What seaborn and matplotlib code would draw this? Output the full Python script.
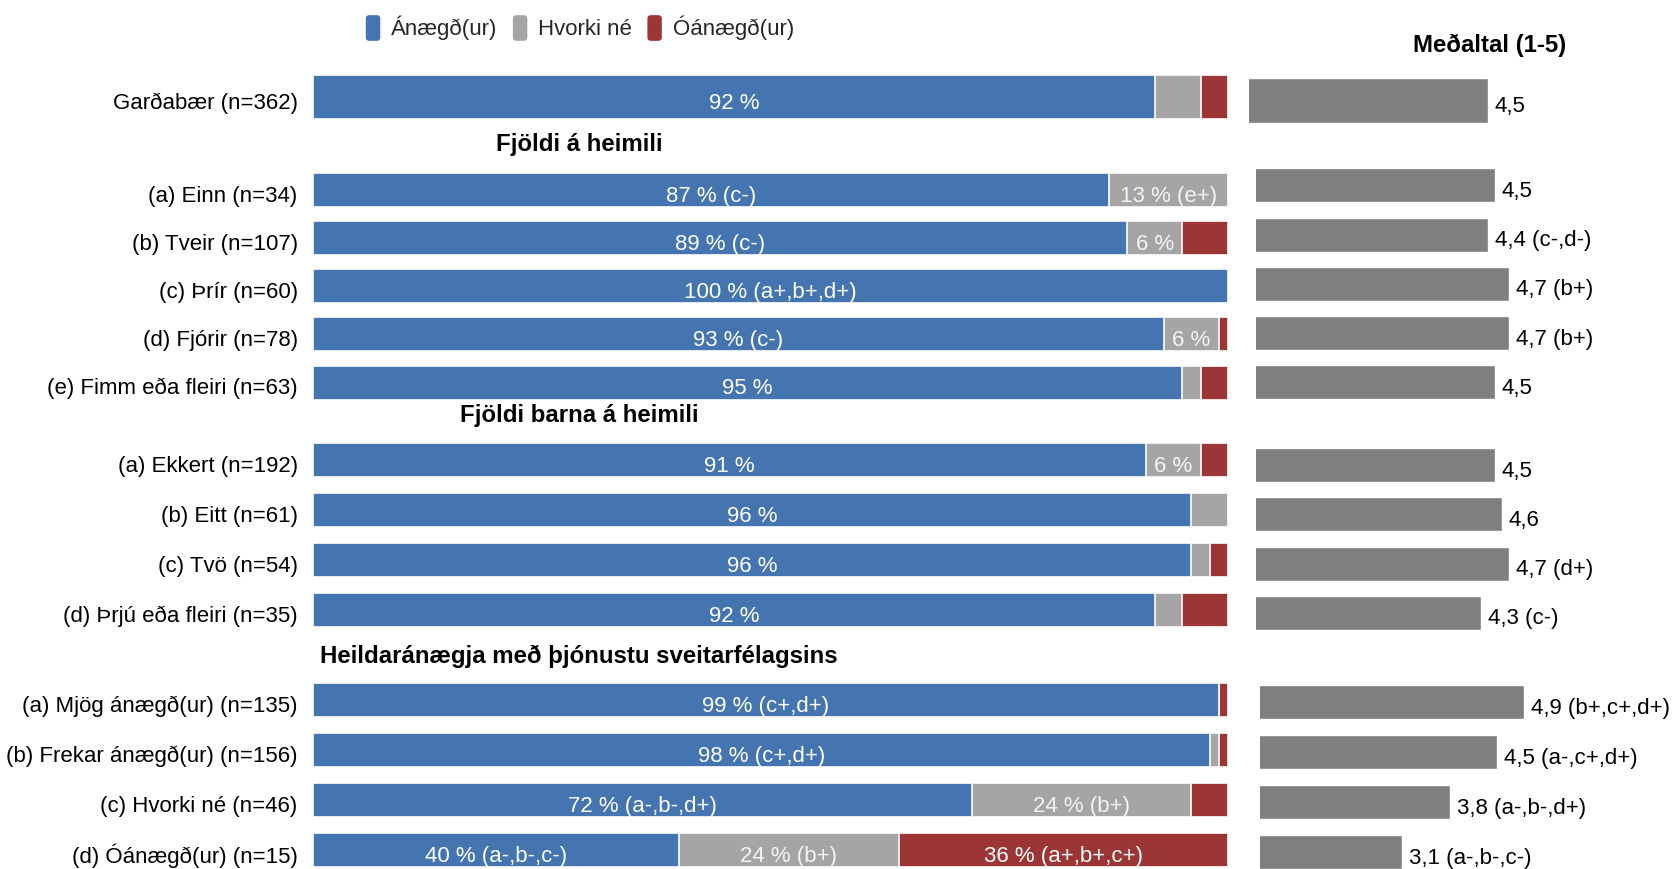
import matplotlib
matplotlib.use("Agg")
import matplotlib.pyplot as plt
from matplotlib.patches import Patch, FancyBboxPatch
from matplotlib.legend_handler import HandlerPatch
from matplotlib.transforms import ScaledTranslation
import seaborn as sns
import pandas as pd

sns.set_theme(style="white")
plt.rcParams['font.family'] = ['Liberation Sans', 'DejaVu Sans']

# ---------------- data ----------------
series_names = ["Ánægð(ur)", "Hvorki né", "Óánægð(ur)"]
headers = ["", "Fjöldi á heimili", "Fjöldi barna á heimili",
           "Heildaránægja með þjónustu sveitarfélagsins"]

cats0 = ["Garðabær (n=362)"]
sat0 = [92]
neu0 = [5]
dis0 = [3]
lab_sat0 = ["92 %"]
lab_neu0 = [""]
lab_dis0 = [""]
mean0 = [4.5]
mean_lab0 = ["4,5"]

cats1 = ["(a) Einn (n=34)", "(b) Tveir (n=107)", "(c) Þrír (n=60)",
         "(d) Fjórir (n=78)", "(e) Fimm eða fleiri (n=63)"]
sat1 = [87, 89, 100, 93, 95]
neu1 = [13, 6, 0, 6, 2]
dis1 = [0, 5, 0, 1, 3]
lab_sat1 = ["87 % (c-)", "89 % (c-)", "100 % (a+,b+,d+)", "93 % (c-)", "95 %"]
lab_neu1 = ["13 % (e+)", "6 %", "", "6 %", ""]
lab_dis1 = ["", "", "", "", ""]
mean1 = [4.5, 4.4, 4.7, 4.7, 4.5]
mean_lab1 = ["4,5", "4,4 (c-,d-)", "4,7 (b+)", "4,7 (b+)", "4,5"]

cats2 = ["(a) Ekkert (n=192)", "(b) Eitt (n=61)", "(c) Tvö (n=54)",
         "(d) Þrjú eða fleiri (n=35)"]
sat2 = [91, 96, 96, 92]
neu2 = [6, 4, 2, 3]
dis2 = [3, 0, 2, 5]
lab_sat2 = ["91 %", "96 %", "96 %", "92 %"]
lab_neu2 = ["6 %", "", "", ""]
lab_dis2 = ["", "", "", ""]
mean2 = [4.5, 4.6, 4.7, 4.3]
mean_lab2 = ["4,5", "4,6", "4,7 (d+)", "4,3 (c-)"]

cats3 = ["(a) Mjög ánægð(ur) (n=135)", "(b) Frekar ánægð(ur) (n=156)",
         "(c) Hvorki né (n=46)", "(d) Óánægð(ur) (n=15)"]
sat3 = [99, 98, 72, 40]
neu3 = [0, 1, 24, 24]
dis3 = [1, 1, 4, 36]
lab_sat3 = ["99 % (c+,d+)", "98 % (c+,d+)", "72 % (a-,b-,d+)", "40 % (a-,b-,c-)"]
lab_neu3 = ["", "", "24 % (b+)", "24 % (b+)"]
lab_dis3 = ["", "", "", "36 % (a+,b+,c+)"]
mean3 = [4.9, 4.5, 3.8, 3.1]
mean_lab3 = ["4,9 (b+,c+,d+)", "4,5 (a-,c+,d+)", "3,8 (a-,b-,d+)", "3,1 (a-,b-,c-)"]

groups = [
    (cats0, sat0, neu0, dis0, lab_sat0, lab_neu0, lab_dis0, mean0, mean_lab0),
    (cats1, sat1, neu1, dis1, lab_sat1, lab_neu1, lab_dis1, mean1, mean_lab1),
    (cats2, sat2, neu2, dis2, lab_sat2, lab_neu2, lab_dis2, mean2, mean_lab2),
    (cats3, sat3, neu3, dis3, lab_sat3, lab_neu3, lab_dis3, mean3, mean_lab3),
]

# ---------------- style / layout ----------------
C_SAT = "#4475B0"
C_NEU = "#A5A5A5"
C_DIS = "#9C3636"
C_MEAN = "#7F7F7F"
FS = 16
FSB = 17.3
DY = -2.6  # points: text sits slightly below bar centre

W, H = 1675, 869
fig = plt.figure(figsize=(W / 100, H / 100), dpi=100)
down = ScaledTranslation(0, DY / 72, fig.dpi_scale_trans)

# (top, bottom, bar_width) in pixels for the left panels
left_boxes = [(72, 122, 0.88), (166, 406.6, 0.707), (435, 635, 0.68), (675, 875, 0.68)]
# (x0, top, bottom, bar_width, px_per_unit) for the right panels
right_boxes = [(1249, 75.7, 125.7, 0.894, 68.3), (1256, 160.7, 406.9, 0.69, 68.3),
               (1256, 440.7, 637.3, 0.69, 68.3), (1260, 677.4, 877, 0.68, 67.8)]
LX0, LW = 313, 915


def px_axes(x0, top, w, h):
    return fig.add_axes([x0 / W, 1 - (top + h) / H, w / W, h / H])


for g, (cats, sat, neu, dis, ls, ln, ld, mean, mlab) in enumerate(groups):
    top, bot, bw = left_boxes[g]
    ax = px_axes(LX0, top, LW, bot - top)
    n = len(cats)
    df = pd.DataFrame({"cat": cats, "sat": sat, "neu": neu, "dis": dis})
    df["c2"] = df["sat"] + df["neu"]
    df["c3"] = df["c2"] + df["dis"]
    for col, colr in [("c3", C_DIS), ("c2", C_NEU), ("sat", C_SAT)]:
        sns.barplot(data=df, x=col, y="cat", orient="h", color=colr,
                    width=bw, edgecolor="white", linewidth=1.2,
                    saturation=1, ax=ax)
    ax.set_xlim(0, 100)
    ax.set_ylim(n - 0.5, -0.5)
    ax.set_xlabel("")
    ax.set_ylabel("")
    ax.set_xticks([])
    ax.tick_params(axis="y", length=0, pad=11, labelsize=FS, labelcolor="black")
    for lbl in ax.get_yticklabels():
        lbl.set_transform(lbl.get_transform() + down)
    for s in ax.spines.values():
        s.set_visible(False)
    ax.patch.set_alpha(0)
    for i in range(n):
        if ls[i]:
            ax.text(sat[i] / 2, i, ls[i], ha="center", va="center_baseline",
                    color="white", fontsize=FS, transform=ax.transData + down)
        if ln[i]:
            ax.text(sat[i] + neu[i] / 2, i, ln[i], ha="center", va="center_baseline",
                    color="#F4F4F4", fontsize=FS, transform=ax.transData + down)
        if ld[i]:
            ax.text(sat[i] + neu[i] + dis[i] / 2, i, ld[i], ha="center",
                    va="center_baseline", color="white", fontsize=FS,
                    transform=ax.transData + down)

    # right panel (means)
    x0, rtop, rbot, rbw, ppu = right_boxes[g]
    axr = px_axes(x0, rtop, 4 * ppu, rbot - rtop)
    dm = pd.DataFrame({"cat": cats, "mean": mean})
    sns.barplot(data=dm, x="mean", y="cat", orient="h", color=C_MEAN,
                width=rbw, edgecolor="white", linewidth=1, saturation=1, ax=axr)
    axr.set_xlim(1, 5)
    axr.set_ylim(n - 0.5, -0.5)
    axr.set_xlabel("")
    axr.set_ylabel("")
    axr.set_xticks([])
    axr.set_yticks([])
    for s in axr.spines.values():
        s.set_visible(False)
    axr.patch.set_alpha(0)
    for i in range(n):
        axr.annotate(mlab[i], (mean[i], i), xytext=(5, DY), textcoords="offset points",
                     ha="left", va="center_baseline", fontsize=FS, color="black",
                     annotation_clip=False)

# group headers
header_y = [None, 145, 415, 656]
for g in range(1, 4):
    fig.text(579 / W, 1 - header_y[g] / H, headers[g], ha="center", va="center",
             fontsize=FSB, fontweight="bold", color="black")

fig.text(1490 / W, 1 - 45 / H, "Meðaltal (1-5)", ha="center", va="center",
         fontsize=FSB, fontweight="bold", color="black")


class RoundHandler(HandlerPatch):
    def create_artists(self, legend, orig_handle, xdescent, ydescent, width,
                       height, fontsize, trans):
        p = FancyBboxPatch((-xdescent, -ydescent), width, height,
                           boxstyle="round,pad=0,rounding_size=2.5",
                           facecolor=orig_handle.get_facecolor(),
                           edgecolor="none", transform=trans)
        return [p]


handles = [Patch(facecolor=c, edgecolor="none") for c in (C_SAT, C_NEU, C_DIS)]
fig.legend(handles, series_names, loc="center", bbox_to_anchor=(580 / W, 1 - 28 / H),
           ncol=3, frameon=False, fontsize=FS, handlelength=0.65, handleheight=1.4,
           handletextpad=0.5, columnspacing=0.68,
           handler_map={Patch: RoundHandler()})

fig.savefig("out.png", dpi=100)
